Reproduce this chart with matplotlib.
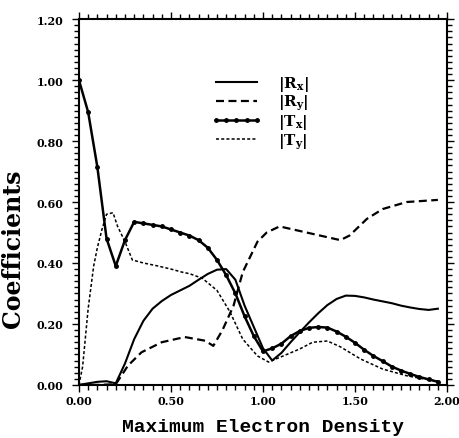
import matplotlib
matplotlib.use('Agg')
from matplotlib import pyplot as plt
from matplotlib.ticker import MultipleLocator, FormatStrFormatter

# |Rx| - thin solid
rx_x = [0.00, 0.05, 0.10, 0.15, 0.20, 0.25, 0.30, 0.35, 0.40, 0.45, 0.50, 0.55, 0.60,
        0.65, 0.70, 0.75, 0.80, 0.85, 0.90, 0.95, 1.00, 1.05, 1.10, 1.15, 1.20, 1.25,
        1.30, 1.35, 1.40, 1.45, 1.50, 1.55, 1.60, 1.65, 1.70, 1.75, 1.80, 1.85, 1.90, 1.95]
rx_y = [0.000, 0.005, 0.010, 0.012, 0.005, 0.070, 0.150, 0.210, 0.250, 0.275, 0.295, 0.310, 0.325,
        0.345, 0.364, 0.378, 0.380, 0.345, 0.260, 0.190, 0.120, 0.080, 0.105, 0.140, 0.173, 0.205,
        0.235, 0.262, 0.282, 0.293, 0.292, 0.287, 0.280, 0.274, 0.268, 0.260, 0.254, 0.249, 0.246, 0.250]

# |Ry| - long dashes
ry_x = [0.00, 0.10, 0.20, 0.266, 0.34, 0.45, 0.575, 0.685, 0.73, 0.78, 0.84, 0.89, 0.97,
        1.02, 1.09, 1.20, 1.31, 1.42, 1.47, 1.565, 1.65, 1.78, 1.95]
ry_y = [0.000, 0.000, 0.002, 0.063, 0.107, 0.140, 0.157, 0.145, 0.128, 0.180, 0.260, 0.370, 0.470,
        0.500, 0.520, 0.505, 0.490, 0.475, 0.490, 0.545, 0.577, 0.600, 0.607]

# |Tx| - solid with dots
tx_x = [0.00, 0.05, 0.10, 0.15, 0.20, 0.25, 0.30, 0.35, 0.40, 0.45, 0.50, 0.55, 0.60,
        0.65, 0.70, 0.75, 0.80, 0.85, 0.90, 0.95, 1.00, 1.05, 1.10, 1.15, 1.20, 1.25,
        1.30, 1.35, 1.40, 1.45, 1.50, 1.55, 1.60, 1.65, 1.70, 1.75, 1.80, 1.85, 1.90, 1.95]
tx_y = [1.000, 0.895, 0.715, 0.480, 0.390, 0.475, 0.535, 0.530, 0.525, 0.520, 0.510, 0.500, 0.490,
        0.475, 0.450, 0.410, 0.360, 0.300, 0.225, 0.160, 0.110, 0.120, 0.135, 0.160, 0.177, 0.187,
        0.190, 0.188, 0.175, 0.158, 0.138, 0.115, 0.095, 0.078, 0.060, 0.047, 0.036, 0.026, 0.018, 0.010]

# |Ty| - short dashes
ty_x = [0.00, 0.02, 0.05, 0.08, 0.10, 0.125, 0.15, 0.185, 0.21, 0.25, 0.29, 0.35, 0.43, 0.50,
        0.56, 0.60, 0.67, 0.75, 0.82, 0.89, 0.97, 1.03, 1.11, 1.20, 1.27, 1.35, 1.42, 1.53,
        1.65, 1.78, 1.87, 1.95]
ty_y = [0.000, 0.060, 0.250, 0.390, 0.450, 0.510, 0.560, 0.565, 0.520, 0.470, 0.410, 0.400, 0.390, 0.380,
        0.370, 0.365, 0.350, 0.310, 0.240, 0.150, 0.095, 0.075, 0.095, 0.118, 0.140, 0.144, 0.125, 0.085,
        0.052, 0.030, 0.020, 0.012]

plt.rcParams['mathtext.fontset'] = 'dejavuserif'
plt.rcParams['mathtext.default'] = 'bf'

fig = plt.figure(figsize=(4.59, 4.39), dpi=100)
ax = fig.add_axes([0.172, 0.121, 0.802, 0.833])

ax.plot(rx_x, rx_y, color='black', lw=1.5, label=r'$|R_x|$')
ax.plot(ry_x, ry_y, color='black', lw=1.6, dashes=(3.6, 2.0), label=r'$|R_y|$')
ax.plot(tx_x, tx_y, color='black', lw=1.8, marker='o', ms=2.5, label=r'$|T_x|$')
ax.plot(ty_x, ty_y, color='black', lw=1.1, dashes=(2.0, 1.4), label=r'$|T_y|$')

ax.set_xlim(0, 2.0)
ax.set_ylim(0, 1.2)
ax.xaxis.set_major_locator(MultipleLocator(0.5))
ax.xaxis.set_minor_locator(MultipleLocator(0.05))
ax.yaxis.set_major_locator(MultipleLocator(0.2))
ax.yaxis.set_minor_locator(MultipleLocator(0.02))
ax.xaxis.set_major_formatter(FormatStrFormatter('%.2f'))
ax.yaxis.set_major_formatter(FormatStrFormatter('%.2f'))
ax.tick_params(which='both', direction='out', top=True, right=True, width=1.0)
ax.tick_params(which='major', length=5, labelsize=8)
ax.tick_params(which='minor', length=3.5)
ax.tick_params(axis='y', which='major', pad=6)
ax.tick_params(axis='x', which='major', pad=2)
for lab in ax.get_xticklabels() + ax.get_yticklabels():
    lab.set_fontweight('bold')
    lab.set_family('DejaVu Serif')
for sp in ax.spines.values():
    sp.set_linewidth(1.5)

ax.set_xlabel('Maximum Electron Density', fontsize=14, fontweight='bold',
              family='Liberation Mono', labelpad=9)
ax.set_ylabel('Coefficients', fontsize=17, fontweight='bold', family='DejaVu Serif')
ax.yaxis.set_label_coords(-0.147, 0.374)

ax.legend(loc='upper left', bbox_to_anchor=(0.359, 0.85), frameon=False,
          fontsize=11, handlelength=3.3, handletextpad=1.1, labelspacing=0.0,
          borderpad=0, borderaxespad=0, numpoints=5)

fig.savefig('out.png', dpi=100)
